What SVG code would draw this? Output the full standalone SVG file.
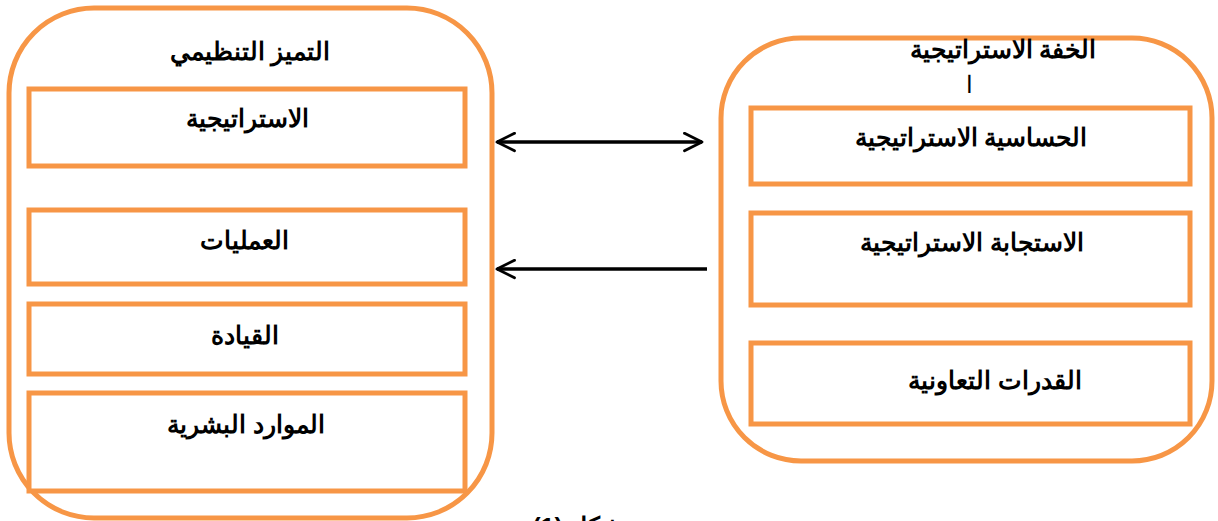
<svg xmlns="http://www.w3.org/2000/svg" width="1218" height="521" viewBox="0 0 1218 521">
<style>
.outer{fill:#fff;stroke:#F79646;stroke-width:5}
.box{fill:#fff;stroke:#F79646;stroke-width:5}
.t{font-family:"Liberation Sans",Arial,sans-serif;font-weight:bold;font-size:24.5px;fill:#000;text-anchor:middle;direction:rtl}
.c{fill:none;stroke:#000;stroke-width:3.5}
</style>
<defs>
<marker id="ah" viewBox="0 0 12 12" refX="11" refY="6" markerWidth="6" markerHeight="6" markerUnits="strokeWidth" orient="auto-start-reverse">
<path d="M1,1 L11,6 L1,11" fill="none" stroke="#000" stroke-width="1.6" stroke-linecap="round" stroke-linejoin="round"/>
</marker>
</defs>
<rect width="1218" height="521" fill="#fff"/>
<g id="org-excellence">
<rect class="outer" x="9" y="8" width="483" height="510" rx="85" ry="85"/>
<text class="t" x="250" y="60">التميز التنظيمي</text>
</g>
<g id="strategy">
<rect class="box" x="29" y="89" width="436" height="77"/>
<text class="t" x="247" y="127">الاستراتيجية</text>
</g>
<g id="operations">
<rect class="box" x="29" y="210" width="436" height="74"/>
<text class="t" x="244" y="249">العمليات</text>
</g>
<g id="leadership">
<rect class="box" x="29" y="304" width="436" height="70"/>
<text class="t" x="245" y="344">القيادة</text>
</g>
<g id="hr">
<rect class="box" x="29" y="393" width="436" height="98"/>
<text class="t" x="246" y="433">الموارد البشرية</text>
</g>
<g id="strategic-agility">
<rect class="outer" x="721" y="38" width="491" height="423" rx="80" ry="80"/>
<text class="t" x="1003" y="58">الخفة الاستراتيجية</text>
<text x="969" y="93" font-family="Liberation Sans,Arial,sans-serif" font-size="24" text-anchor="middle">ا</text>
</g>
<g id="sensitivity">
<rect class="box" x="751" y="108" width="439" height="76"/>
<text class="t" x="971" y="146">الحساسية الاستراتيجية</text>
</g>
<g id="response">
<rect class="box" x="751" y="213" width="439" height="92"/>
<text class="t" x="972" y="251">الاستجابة الاستراتيجية</text>
</g>
<g id="collaborative">
<rect class="box" x="751" y="343" width="439" height="81"/>
<text class="t" x="995" y="389">القدرات التعاونية</text>
</g>
<g id="connectors">
<line class="c" x1="497" y1="142" x2="702" y2="142" marker-start="url(#ah)" marker-end="url(#ah)"/>
<line class="c" x1="707" y1="269" x2="497" y2="269" marker-end="url(#ah)"/>
</g>
<text class="t" x="578" y="535">شكل (1)</text>
</svg>
